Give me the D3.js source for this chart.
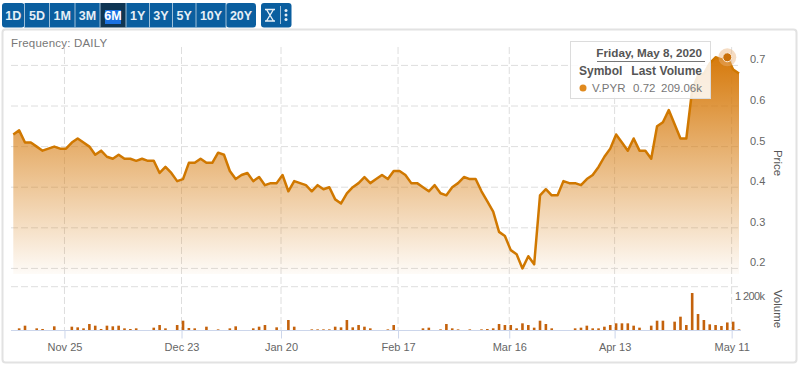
<!DOCTYPE html>
<html>

<head>
    <title>V.PYR 6M</title>
    <style>
        * {
            margin: 0;
            padding: 0;
        }
        body {
            background-color: #fff;
            overflow: hidden;
        }
        svg {
            display: block;
            font-family: "Liberation Sans", Arial, sans-serif;
        }
        .grid {
            stroke: #dedede;
            stroke-width: 1;
            stroke-dasharray: 7 3;
        }
        .axis text {
            fill: #666;
            font-size: 11px;
        }
    </style>
    <script src="https://cdn.jsdelivr.net/npm/d3@7"></script>
</head>

<body>
    <div id="chart"></div>

    <script>
        var rangeLabels = ["1D", "5D", "1M", "3M", "6M", "1Y", "3Y", "5Y", "10Y", "20Y"];
        var activeRange = "6M";

        var prices = [
            0.53, 0.54, 0.51, 0.51, 0.50, 0.49, 0.495, 0.50, 0.495, 0.495,
            0.51, 0.52, 0.51, 0.50, 0.48, 0.49, 0.475, 0.47, 0.48, 0.47,
            0.47, 0.465, 0.47, 0.465, 0.465, 0.435, 0.45, 0.435, 0.415, 0.42,
            0.46, 0.46, 0.47, 0.46, 0.46, 0.485, 0.48, 0.44, 0.42, 0.43,
            0.435, 0.415, 0.425, 0.405, 0.41, 0.41, 0.43, 0.39, 0.415, 0.41,
            0.405, 0.39, 0.405, 0.395, 0.40, 0.37, 0.36, 0.385, 0.40, 0.41,
            0.425, 0.41, 0.42, 0.43, 0.42, 0.44, 0.44, 0.43, 0.41, 0.41,
            0.40, 0.39, 0.405, 0.385, 0.38, 0.40, 0.41, 0.425, 0.42, 0.42,
            0.39, 0.365, 0.34, 0.29, 0.28, 0.245, 0.235, 0.20, 0.23, 0.21,
            0.38, 0.395, 0.38, 0.38, 0.415, 0.41, 0.41, 0.405, 0.42, 0.43,
            0.45, 0.475, 0.495, 0.53, 0.51, 0.49, 0.52, 0.49, 0.49, 0.47,
            0.55, 0.56, 0.59, 0.555, 0.52, 0.52, 0.64, 0.675, 0.68, 0.705,
            0.72, 0.715, 0.72, 0.69, 0.68
        ];

        // thousands of shares
        var volumes = [
            0, 46, 120, 0, 46, 28, 0, 102, 0, 0,
            92, 74, 46, 166, 120, 28, 120, 102, 120, 46,
            28, 46, 0, 0, 65, 138, 46, 0, 138, 258,
            55, 46, 0, 92, 0, 18, 0, 46, 102, 0,
            0, 46, 92, 138, 0, 74, 0, 277, 92, 0,
            0, 18, 18, 18, 18, 92, 74, 277, 74, 138,
            92, 46, 0, 0, 18, 138, 0, 0, 0, 0,
            46, 65, 0, 18, 166, 46, 18, 0, 18, 0,
            18, 28, 46, 166, 138, 138, 46, 185, 138, 65,
            258, 166, 46, 0, 0, 0, 46, 65, 120, 46,
            46, 92, 138, 185, 185, 185, 120, 65, 0, 120,
            258, 258, 0, 231, 369, 138, 1025, 443, 277, 157,
            138, 111, 209.06, 231, 18
        ];

        var tickSessions = [9, 29, 46, 66, 85, 103, 123];
        var tickLabels = ["Nov 25", "Dec 23", "Jan 20", "Feb 17", "Mar 16", "Apr 13", "May 11"];
        var priceTicks = [0.2, 0.3, 0.4, 0.5, 0.6, 0.7];
        var volumeTicks = [1200];
        var hoverSession = 122;

        var width = 800;
        var height = 365;
        var gridLeft = 11;
        var gridRight = 741;

        var svg = d3.select("#chart").append("svg").attr("width", width).attr("height", height);

        var x = d3.scaleLinear().domain([0, prices.length - 1]).range([13.3, 739]);
        var y = d3.scaleLinear().domain([0.2, 0.7]).range([268.4, 65.4]);
        var yVolume = d3.scaleLinear().domain([0, 1200]).range([330, 286.7]);
        var areaBottom = 274;
        var tickShift = -1.5;

        function renderFrame() {
            svg.append("rect")
                .attr("x", 2.5).attr("y", 29.5).attr("width", 794).attr("height", 333).attr("rx", 3)
                .attr("fill", "#fff").attr("stroke", "#e2e2e2").attr("stroke-width", 2);

            svg.append("text").attr("x", 11).attr("y", 47)
                .attr("fill", "#777").attr("font-size", 11.5).attr("letter-spacing", 0.2)
                .text("Frequency: DAILY");
        }

        function renderButtons() {
            var edges = [2, 24.5, 49.5, 75, 100, 126, 149.5, 172.5, 196, 226, 256];
            var g = svg.append("g");
            rangeLabels.forEach(function (label, i) {
                var active = label === activeRange;
                var left = edges[i];
                var w = edges[i + 1] - left;
                g.append("rect")
                    .attr("x", left).attr("y", 3).attr("width", w).attr("height", 24.5)
                    .attr("rx", (i === 0 || i === rangeLabels.length - 1) ? 3 : 0)
                    .attr("fill", active ? "#0e3553" : "#0a5e9f");
                if (active) {
                    g.append("rect")
                        .attr("x", left + w / 2 - 8).attr("y", 10).attr("width", 16).attr("height", 14)
                        .attr("fill", "#1a70e0");
                }
                g.append("text")
                    .attr("x", left + w / 2).attr("y", 20)
                    .attr("text-anchor", "middle")
                    .attr("fill", active ? "#fff" : "#e6eff6")
                    .attr("font-size", 12.5).attr("font-weight", 700)
                    .text(label);
                if (i > 0) {
                    g.append("line")
                        .attr("x1", left).attr("x2", left).attr("y1", 3).attr("y2", 27.5)
                        .attr("stroke", "#9dbfd9");
                }
            });

            // tools group
            g.append("rect").attr("x", 261).attr("y", 3).attr("width", 30.5).attr("height", 24.5).attr("rx", 3).attr("fill", "#0a5e9f");
            g.append("path")
                .attr("d", "M265 9.5h10M265 21h10M266.5 9.5l7 11.5M273.5 9.5l-7 11.5")
                .attr("fill", "none").attr("stroke", "#e6eff6").attr("stroke-width", 1.4);
            g.append("line").attr("x1", 280.5).attr("x2", 280.5).attr("y1", 6).attr("y2", 24).attr("stroke", "#9dbfd9");
            g.selectAll("circle.dot").data([10.5, 15, 19.5]).enter().append("circle")
                .attr("class", "dot").attr("cx", 286).attr("cy", function (d) { return d; }).attr("r", 1.5).attr("fill", "#e6eff6");
        }

        function renderGrid() {
            var g = svg.append("g");
            g.selectAll("line.h").data(priceTicks).enter().append("line")
                .attr("class", "h grid")
                .attr("x1", gridLeft).attr("x2", gridRight)
                .attr("y1", function (d) { return y(d); }).attr("y2", function (d) { return y(d); });
            g.selectAll("line.hv").data(volumeTicks).enter().append("line")
                .attr("class", "hv grid")
                .attr("x1", gridLeft).attr("x2", gridRight)
                .attr("y1", function (d) { return yVolume(d); }).attr("y2", function (d) { return yVolume(d); });
            g.selectAll("line.v").data(tickSessions).enter().append("line")
                .attr("class", "v grid")
                .attr("x1", function (d) { return x(d) + tickShift; }).attr("x2", function (d) { return x(d) + tickShift; })
                .attr("y1", 47).attr("y2", 330);
        }

        function renderPrice() {
            var defs = svg.append("defs");
            var grad = defs.append("linearGradient").attr("id", "priceFill")
                .attr("gradientUnits", "userSpaceOnUse")
                .attr("x1", 0).attr("x2", 0).attr("y1", y(0.72)).attr("y2", areaBottom);
            grad.append("stop").attr("offset", 0).attr("stop-color", "#d67a0c").attr("stop-opacity", 1);
            grad.append("stop").attr("offset", 1).attr("stop-color", "#d67a0c").attr("stop-opacity", 0.03);

            var area = d3.area()
                .x(function (d, i) { return x(i); })
                .y0(areaBottom)
                .y1(function (d) { return y(d); });
            var line = d3.line()
                .x(function (d, i) { return x(i); })
                .y(function (d) { return y(d); });

            svg.append("path").datum(prices).attr("d", area).attr("fill", "url(#priceFill)");
            svg.append("path").datum(prices).attr("d", line)
                .attr("fill", "none").attr("stroke", "#d07800").attr("stroke-width", 2.5).attr("stroke-linejoin", "round");
        }

        function renderVolume() {
            svg.append("g").selectAll("rect").data(volumes).enter().append("rect")
                .attr("x", function (d, i) { return x(i) - 1.3; })
                .attr("width", 2.6)
                .attr("y", function (d) { return yVolume(d); })
                .attr("height", function (d) { return yVolume(0) - yVolume(d); })
                .attr("fill", "#c4620c");
        }

        function renderAxes() {
            var xAxis = d3.axisBottom(x).tickValues(tickSessions).tickSize(8).tickPadding(5)
                .tickFormat(function (d, i) { return tickLabels[i]; });
            var gx = svg.append("g").attr("class", "axis").attr("transform", "translate(" + tickShift + ",330.5)").call(xAxis);
            gx.select(".domain").remove();
            gx.selectAll(".tick line").attr("stroke", "#ccd6eb");

            svg.append("line")
                .attr("x1", gridLeft).attr("x2", gridRight).attr("y1", 330.5).attr("y2", 330.5)
                .attr("stroke", "#ccd6eb");

            var yAxis = d3.axisRight(y).tickValues(priceTicks).tickSize(0).tickFormat(d3.format(".1f"));
            var gy = svg.append("g").attr("class", "axis").attr("transform", "translate(750,-6)").call(yAxis);
            gy.select(".domain").remove();
            gy.selectAll("text").attr("x", 0);

            var vAxis = d3.axisRight(yVolume).tickValues(volumeTicks).tickSize(0)
                .tickFormat(function (d) { return d3.format(",")(d).replace(",", " ") + "k"; });
            var gv = svg.append("g").attr("class", "axis").attr("transform", "translate(735,9.5)").call(vAxis);
            gv.select(".domain").remove();
            gv.selectAll("text").attr("x", 0).attr("letter-spacing", -0.6);

            [["Price", 163], ["Volume", 309]].forEach(function (t) {
                svg.append("text")
                    .attr("transform", "translate(774," + t[1] + ") rotate(90)")
                    .attr("text-anchor", "middle")
                    .attr("fill", "#555").attr("font-size", 11.5)
                    .text(t[0]);
            });
        }

        function renderTooltip() {
            var cx = x(hoverSession);
            var cy = y(prices[hoverSession]);
            svg.append("circle").attr("cx", cx).attr("cy", cy).attr("r", 9)
                .attr("fill", "#e8b27a").attr("fill-opacity", 0.45);
            svg.append("circle").attr("cx", cx).attr("cy", cy).attr("r", 4.5)
                .attr("fill", "#c9700a").attr("stroke", "#fbeee0").attr("stroke-width", 1);

            var g = svg.append("g");
            g.append("rect").attr("x", 570.5).attr("y", 41.5).attr("width", 140).attr("height", 57)
                .attr("fill", "#fff").attr("fill-opacity", 0.85).attr("stroke", "#dcdcdc");
            g.append("text").attr("x", 702).attr("y", 57).attr("text-anchor", "end")
                .attr("fill", "#555").attr("font-size", 11.7).attr("font-weight", 700)
                .text("Friday, May 8, 2020");
            g.append("line").attr("x1", 597).attr("x2", 705).attr("y1", 61.5).attr("y2", 61.5).attr("stroke", "#777");

            [["Symbol", 579, "start"], ["Last", 656, "end"], ["Volume", 702, "end"]].forEach(function (h) {
                g.append("text").attr("x", h[1]).attr("y", 75).attr("text-anchor", h[2])
                    .attr("fill", "#555").attr("font-size", 12).attr("font-weight", 700)
                    .text(h[0]);
            });
            g.append("circle").attr("cx", 583).attr("cy", 88).attr("r", 3.5).attr("fill", "#e08a1e");
            [["V.PYR", 592, "start"], [d3.format(".2f")(prices[hoverSession]), 655.5, "end"], [d3.format(".2f")(volumes[hoverSession]) + "k", 702, "end"]].forEach(function (c) {
                g.append("text").attr("x", c[1]).attr("y", 92).attr("text-anchor", c[2])
                    .attr("fill", "#777").attr("font-size", 11.5)
                    .text(c[0]);
            });
        }

        renderFrame();
        renderButtons();
        renderGrid();
        renderPrice();
        renderVolume();
        renderAxes();
        renderTooltip();
    </script>
</body>

</html>
